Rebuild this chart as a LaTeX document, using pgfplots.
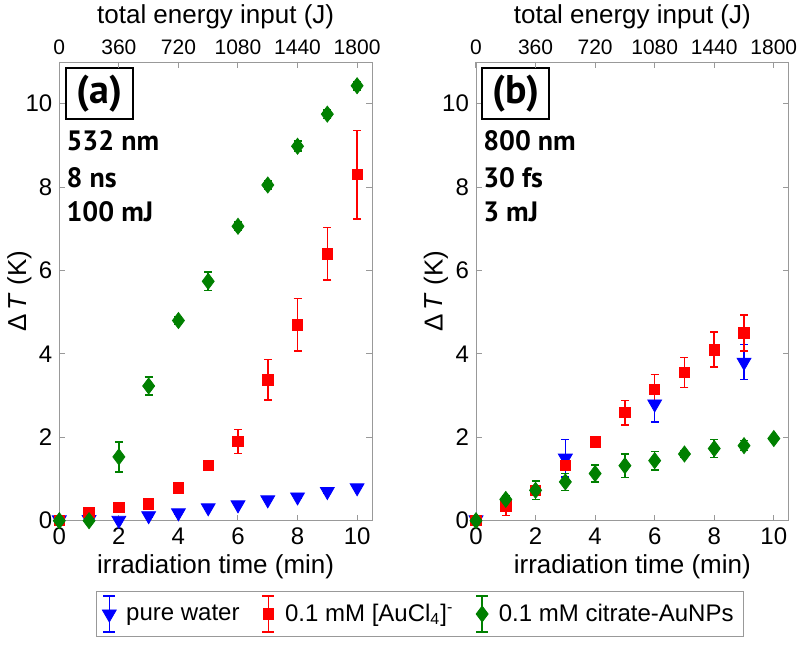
\documentclass[border=0pt]{standalone}
\usepackage{fontspec}
\setmainfont{Liberation Sans}
\newfontfamily\panelfont{PT Sans}
\usepackage{pgfplots}
\pgfplotsset{compat=1.18}

\definecolor{mblue}{rgb}{0,0,1}
\definecolor{mred}{rgb}{1,0,0}
\definecolor{mgreen}{rgb}{0,0.5,0}
\definecolor{axgray}{rgb}{0.6,0.6,0.6}

\pgfplotsset{
  panel/.style={
    width=156.35pt, height=229.35pt, scale only axis,
    xmin=0, xmax=10.5, ymin=0, ymax=11,
    xtick={0,2,...,10}, ytick={0,2,...,10},
    tick align=inside, major tick length=3pt,
    axis line style={axgray}, tick style={axgray, line width=0.5pt},
    clip=false,
    /pgf/number format/assume math mode=true,
    tick label style={font=\fontsize{12}{14}\selectfont},
    label style={font=\fontsize{13}{15}\selectfont},
    xlabel={irradiation time (min)},
    ylabel={Δ\,\textit{T} (K)},
    x label style={at={(axis description cs:0.5,-0.1)}, anchor=center},
    y label style={at={(axis description cs:-0.128,0.5)}, anchor=center},
    error bars/y dir=both, error bars/y explicit,
  },
  toppanel/.style={
    width=156.35pt, height=229.35pt, scale only axis,
    xmin=0, xmax=1890, ymin=0, ymax=1,
    axis x line*=top, axis y line=none,
    xtick={0,360,...,1800},
    tick align=inside, major tick length=3pt,
    axis line style={axgray}, tick style={axgray, line width=0.5pt},
    /pgf/number format/assume math mode=true,
    /pgf/number format/1000 sep={},
    tick label style={font=\fontsize{10.5}{12}\selectfont},
    label style={font=\fontsize{13}{15}\selectfont},
    xlabel={total energy input (J)},
    x label style={at={(axis description cs:0.5,1.098)}, anchor=center},
  },
  errlegend/.style={legend image code/.code={
    \draw[##1, mark=none, line width=0.75pt] (0pt,-9pt) -- (0pt,9pt)
      (-3pt,-9pt) -- (3pt,-9pt) (-3pt,9pt) -- (3pt,9pt);
    \draw[##1, only marks] plot coordinates {(0pt,0pt)};
  }},
  errcol/.style={
    error bars/error bar style={line width=0.75pt, color=#1},
    error bars/error mark options={line width=0.75pt, mark size=2pt, rotate=90, color=#1},
  },
  water/.style={mblue, only marks, mark=triangle*, mark size=4pt,
    mark options={rotate=180, fill=mblue, draw=mblue}, errlegend, errcol=mblue},
  gold/.style={mred, only marks, mark=square*, mark size=2.6pt,
    mark options={fill=mred, draw=mred}, errlegend, errcol=mred},
  cit/.style={mgreen, only marks, mark=diamond*, mark size=4pt,
    mark options={fill=mgreen, draw=mgreen}, errlegend, errcol=mgreen},
}

\newcommand{\paneltext}[4]{%
  \node[draw=black, line width=1pt, anchor=north west, inner sep=0pt,
    minimum width=33.5pt, minimum height=25.5pt,
    font=\panelfont\bfseries\fontsize{20}{22}\selectfont]
    at (rel axis cs:0.017,0.989) {#1};
  \node[anchor=west, inner sep=0pt, font=\panelfont\bfseries\fontsize{14}{16}\selectfont]
    at (rel axis cs:0.022,0.828) {#2};
  \node[anchor=west, inner sep=0pt, font=\panelfont\bfseries\fontsize{14}{16}\selectfont]
    at (rel axis cs:0.022,0.747) {#3};
  \node[anchor=west, inner sep=0pt, font=\panelfont\bfseries\fontsize{14}{16}\selectfont]
    at (rel axis cs:0.022,0.673) {#4};
}

\begin{document}
\begin{tikzpicture}
\useasboundingbox (-29.65pt,-63.15pt) rectangle (370.35pt,260.35pt);

% panel (a)
\begin{axis}[panel,
  legend columns=3,
  legend style={at={(axis description cs:1.1535,-0.2034)}, anchor=center,
    draw=axgray, font=\fontsize{12}{14}\selectfont,
    /tikz/every odd column/.append style={column sep=3pt},
    /tikz/every even column/.append style={column sep=9pt}},
]
\addplot[water] coordinates {
  (0,0.02) +- (0,0.02) (1,0.03) +- (0,0.02) (2,0.01) +- (0,0.02)
  (3,0.12) +- (0,0.03) (4,0.19) +- (0,0.03) (5,0.31) +- (0,0.03)
  (6,0.38) +- (0,0.03) (7,0.50) +- (0,0.03) (8,0.57) +- (0,0.03)
  (9,0.70) +- (0,0.03) (10,0.79) +- (0,0.03) };
\addplot[gold] coordinates {
  (0,0) +- (0,0.03) (1,0.20) +- (0,0.03) (2,0.32) +- (0,0.03)
  (3,0.40) +- (0,0.03) (4,0.79) +- (0,0.05) (5,1.32) +- (0,0.08)
  (6,1.90) +- (0,0.29) (7,3.38) +- (0,0.49) (8,4.70) +- (0,0.63)
  (9,6.40) +- (0,0.63) (10,8.30) +- (0,1.06) };
\addplot[cit] coordinates {
  (0,0) +- (0,0.02) (1,0) +- (0,0.02) (2,1.53) +- (0,0.36)
  (3,3.23) +- (0,0.21) (4,4.80) +- (0,0.10) (5,5.74) +- (0,0.22)
  (6,7.06) +- (0,0.10) (7,8.05) +- (0,0.10) (8,8.98) +- (0,0.12)
  (9,9.75) +- (0,0.10) (10,10.43) +- (0,0.10) };
\legend{pure water, 0.1 mM [AuCl\textsubscript{4}]\textsuperscript{-}, 0.1 mM citrate-AuNPs}
\paneltext{(a)}{532 nm}{8 ns}{100 mJ}
\end{axis}
\begin{axis}[toppanel]
\end{axis}

% panel (b)
\begin{axis}[panel, at={(208.35pt,0pt)}]
\addplot[water] coordinates {
  (0,0.02) +- (0,0.02) (3,1.50) +- (0,0.45)
  (6,2.80) +- (0,0.43) (9,3.80) +- (0,0.42) };
\addplot[gold] coordinates {
  (0,0) +- (0,0.02) (1,0.35) +- (0,0.22) (2,0.73) +- (0,0.10)
  (3,1.32) +- (0,0.10) (4,1.89) +- (0,0.10) (5,2.59) +- (0,0.29)
  (6,3.15) +- (0,0.35) (7,3.55) +- (0,0.36) (8,4.10) +- (0,0.42)
  (9,4.50) +- (0,0.43) };
\addplot[cit] coordinates {
  (0,0) +- (0,0.02) (1,0.51) +- (0,0.10) (2,0.73) +- (0,0.22)
  (3,0.93) +- (0,0.20) (4,1.13) +- (0,0.20) (5,1.32) +- (0,0.28)
  (6,1.44) +- (0,0.22) (7,1.60) +- (0,0.08) (8,1.73) +- (0,0.22)
  (9,1.80) +- (0,0.12) (10,1.97) +- (0,0.05) };
\paneltext{(b)}{800 nm}{30 fs}{3 mJ}
\end{axis}
\begin{axis}[toppanel, at={(208.35pt,0pt)}]
\end{axis}
\end{tikzpicture}
\end{document}
